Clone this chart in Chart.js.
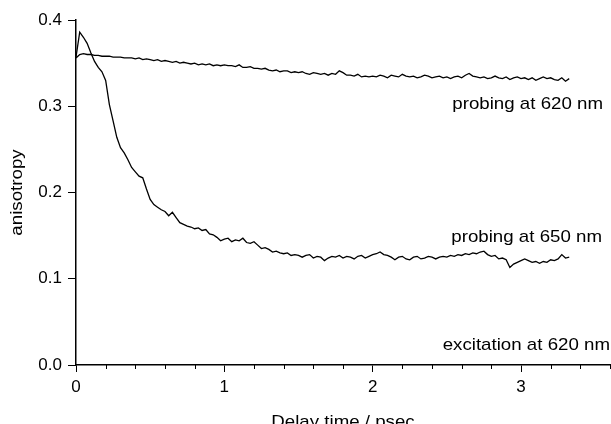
<!DOCTYPE html>
<html>
<head>
<meta charset="utf-8">
<script src="https://cdn.jsdelivr.net/npm/chart.js@4/dist/chart.umd.min.js"></script>
<style>
  html, body { margin: 0; padding: 0; background: #fff; }
  #wrap { width: 611px; height: 424px; }
</style>
</head>
<body>
<div id="wrap"><canvas id="chart"></canvas></div>
<script>
/* --------------------------
   DATA
--------------------------- */
// delay times, psec
const times = [
  0, 0.025, 0.05, 0.075, 0.1, 0.125, 0.15, 0.175, 0.2, 0.225,
  0.25, 0.275, 0.3, 0.325, 0.35, 0.375, 0.4, 0.425, 0.45, 0.475,
  0.5, 0.525, 0.55, 0.575, 0.6, 0.625, 0.65, 0.675, 0.7, 0.725,
  0.75, 0.775, 0.8, 0.825, 0.85, 0.875, 0.9, 0.925, 0.95, 0.975,
  1.0, 1.025, 1.05, 1.075, 1.1, 1.125, 1.15, 1.175, 1.2, 1.225,
  1.25, 1.275, 1.3, 1.325, 1.35, 1.375, 1.4, 1.425, 1.45, 1.475,
  1.5, 1.525, 1.55, 1.575, 1.6, 1.625, 1.65, 1.675, 1.7, 1.725,
  1.75, 1.775, 1.8, 1.825, 1.85, 1.875, 1.9, 1.925, 1.95, 1.975,
  2.0, 2.025, 2.05, 2.075, 2.1, 2.125, 2.15, 2.175, 2.2, 2.225,
  2.25, 2.275, 2.3, 2.325, 2.35, 2.375, 2.4, 2.425, 2.45, 2.475,
  2.5, 2.525, 2.55, 2.575, 2.6, 2.625, 2.65, 2.675, 2.7, 2.725,
  2.75, 2.775, 2.8, 2.825, 2.85, 2.875, 2.9, 2.925, 2.95, 2.975,
  3.0, 3.025, 3.05, 3.075, 3.1, 3.125, 3.15, 3.175, 3.2, 3.225,
  3.25, 3.275, 3.3, 3.325
];

// anisotropy, probing at 620 nm
const probe620 = [
  0.356, 0.360, 0.361, 0.360, 0.360, 0.359, 0.359, 0.358, 0.358, 0.358,
  0.357, 0.357, 0.357, 0.356, 0.356, 0.356, 0.355, 0.356, 0.354, 0.355,
  0.354, 0.353, 0.354, 0.352, 0.353, 0.352, 0.351, 0.352, 0.350, 0.351,
  0.350, 0.349, 0.350, 0.348, 0.349, 0.348, 0.349, 0.347, 0.348, 0.347,
  0.348, 0.347, 0.347, 0.346, 0.348, 0.345, 0.345, 0.346, 0.344, 0.344,
  0.343, 0.344, 0.342, 0.341, 0.342, 0.340, 0.341, 0.341, 0.339, 0.340,
  0.339, 0.340, 0.338, 0.337, 0.339, 0.338, 0.337, 0.338, 0.336, 0.338,
  0.337, 0.341, 0.339, 0.336, 0.336, 0.335, 0.337, 0.334, 0.335, 0.334,
  0.335, 0.334, 0.336, 0.335, 0.333, 0.336, 0.335, 0.334, 0.337, 0.335,
  0.334, 0.335, 0.333, 0.334, 0.336, 0.335, 0.333, 0.334, 0.335, 0.333,
  0.334, 0.332, 0.334, 0.335, 0.333, 0.336, 0.338, 0.335, 0.334, 0.333,
  0.334, 0.332, 0.333, 0.335, 0.333, 0.332, 0.334, 0.331, 0.333, 0.334,
  0.332, 0.333, 0.331, 0.333, 0.330, 0.332, 0.334, 0.332, 0.333, 0.331,
  0.330, 0.333, 0.329, 0.332
];

// anisotropy, probing at 650 nm
const probe650 = [
  0.357, 0.386, 0.380, 0.373, 0.362, 0.352, 0.345, 0.340, 0.330, 0.302,
  0.283, 0.264, 0.252, 0.246, 0.238, 0.229, 0.224, 0.219, 0.217, 0.204,
  0.192, 0.186, 0.183, 0.180, 0.178, 0.173, 0.177, 0.171, 0.165, 0.163,
  0.161, 0.160, 0.158, 0.159, 0.156, 0.157, 0.152, 0.151, 0.148, 0.144,
  0.146, 0.147, 0.143, 0.145, 0.144, 0.147, 0.142, 0.141, 0.143, 0.139,
  0.135, 0.136, 0.134, 0.131, 0.132, 0.130, 0.129, 0.130, 0.127, 0.128,
  0.127, 0.125, 0.127, 0.128, 0.124, 0.126, 0.125, 0.121, 0.124, 0.126,
  0.125, 0.127, 0.124, 0.126, 0.125, 0.123, 0.126, 0.127, 0.124, 0.126,
  0.128, 0.129, 0.131, 0.128, 0.127, 0.125, 0.122, 0.125, 0.126, 0.123,
  0.122, 0.125, 0.126, 0.123, 0.124, 0.126, 0.125, 0.123, 0.125, 0.126,
  0.125, 0.127, 0.126, 0.128, 0.127, 0.129, 0.128, 0.130, 0.129, 0.131,
  0.132, 0.128, 0.126, 0.127, 0.123, 0.124, 0.122, 0.113, 0.117, 0.119,
  0.121, 0.123, 0.121, 0.119, 0.120, 0.118, 0.120, 0.119, 0.122, 0.121,
  0.123, 0.128, 0.124, 0.125
];

const xTicks = [0, 1, 2, 3];
const yTicks = [0.0, 0.1, 0.2, 0.3, 0.4];
const notes = ['probing at 620 nm', 'probing at 650 nm', 'excitation at 620 nm'];

const FONT = 'Liberation Sans, Arial, sans-serif';
const STRETCH = 1.1; // the original lettering is a bit wider than Arial

// right-aligned, horizontally stretched text
function wideText(ctx, text, right, baseline) {
    ctx.save();
    ctx.scale(STRETCH, 1);
    ctx.textAlign = 'right';
    ctx.textBaseline = 'alphabetic';
    ctx.fillText(text, right / STRETCH, baseline);
    ctx.restore();
}

/* --------------------------
   EXTRA DRAWING (minor ticks, titles, notes)
--------------------------- */
const extras = {
    id: 'extras',
    afterDraw(chart) {
        const ctx = chart.ctx;
        const xs = chart.scales.x;
        const ys = chart.scales.y;
        const area = chart.chartArea;

        // minor ticks on the x axis every 0.2
        ctx.save();
        ctx.strokeStyle = '#000';
        ctx.lineWidth = 1;
        for (let i = 1; i <= 18; i++) {
            if (i % 5 === 0) continue;
            const px = Math.round(xs.getPixelForValue(i * 0.2)) + 0.5;
            ctx.beginPath();
            ctx.moveTo(px, area.bottom);
            ctx.lineTo(px, area.bottom + 4);
            ctx.stroke();
        }

        ctx.fillStyle = '#000';
        ctx.font = '17px ' + FONT;

        // axis titles
        ctx.save();
        ctx.scale(STRETCH, 1);
        ctx.textAlign = 'center';
        ctx.textBaseline = 'alphabetic';
        ctx.fillText('Delay time / psec', (area.left + area.right) / 2 / STRETCH, 427);
        ctx.restore();

        ctx.save();
        ctx.translate(17, ys.getPixelForValue(0.2));
        ctx.rotate(-Math.PI / 2);
        ctx.scale(STRETCH, 1);
        ctx.textAlign = 'center';
        ctx.textBaseline = 'middle';
        ctx.fillText('anisotropy', 0, 0);
        ctx.restore();

        // curve notes
        wideText(ctx, notes[0], area.right - 7, ys.getPixelForValue(0.297));
        wideText(ctx, notes[1], area.right - 8, ys.getPixelForValue(0.143));
        wideText(ctx, notes[2], area.right, ys.getPixelForValue(0.017));
        ctx.restore();
    }
};

/* --------------------------
   CHART
--------------------------- */
const ctx = document.getElementById('chart').getContext('2d');

const chart = new Chart(ctx, {
    type: 'line',
    data: {
        datasets: [
            {
                label: notes[0],
                data: times.map((t, i) => ({ x: t, y: probe620[i] })),
                borderColor: '#000',
                borderWidth: 1.3,
                pointRadius: 0,
                tension: 0
            },
            {
                label: notes[1],
                data: times.map((t, i) => ({ x: t, y: probe650[i] })),
                borderColor: '#000',
                borderWidth: 1.3,
                pointRadius: 0,
                tension: 0
            }
        ]
    },
    options: {
        responsive: true,
        maintainAspectRatio: false,
        animation: false,
        layout: { padding: { top: 20, right: 1, left: 0, bottom: 0 } },
        plugins: {
            legend: { display: false },
            tooltip: { enabled: false }
        },
        scales: {
            x: {
                type: 'linear',
                min: 0,
                max: 3.6,
                afterFit(scale) { scale.height = 59; },
                afterBuildTicks(scale) { scale.ticks = xTicks.map(v => ({ value: v })); },
                grid: { drawOnChartArea: false, tickLength: 7, color: '#000', lineWidth: 1 },
                border: { color: '#000', width: 1.5 },
                ticks: {
                    color: '#000',
                    padding: 5,
                    maxRotation: 0,
                    font: { family: FONT, size: 17 },
                    callback: v => String(v)
                }
            },
            y: {
                min: 0,
                max: 0.4,
                afterFit(scale) { scale.width = 76; },
                afterBuildTicks(scale) { scale.ticks = yTicks.map(v => ({ value: v })); },
                grid: { drawOnChartArea: false, tickLength: 8, color: '#000', lineWidth: 1 },
                border: { color: '#000', width: 1.5 },
                ticks: {
                    color: '#000',
                    padding: 6,
                    font: { family: FONT, size: 17 },
                    callback: v => Number(v).toFixed(1)
                }
            }
        }
    },
    plugins: [extras]
});
</script>
</body>
</html>
